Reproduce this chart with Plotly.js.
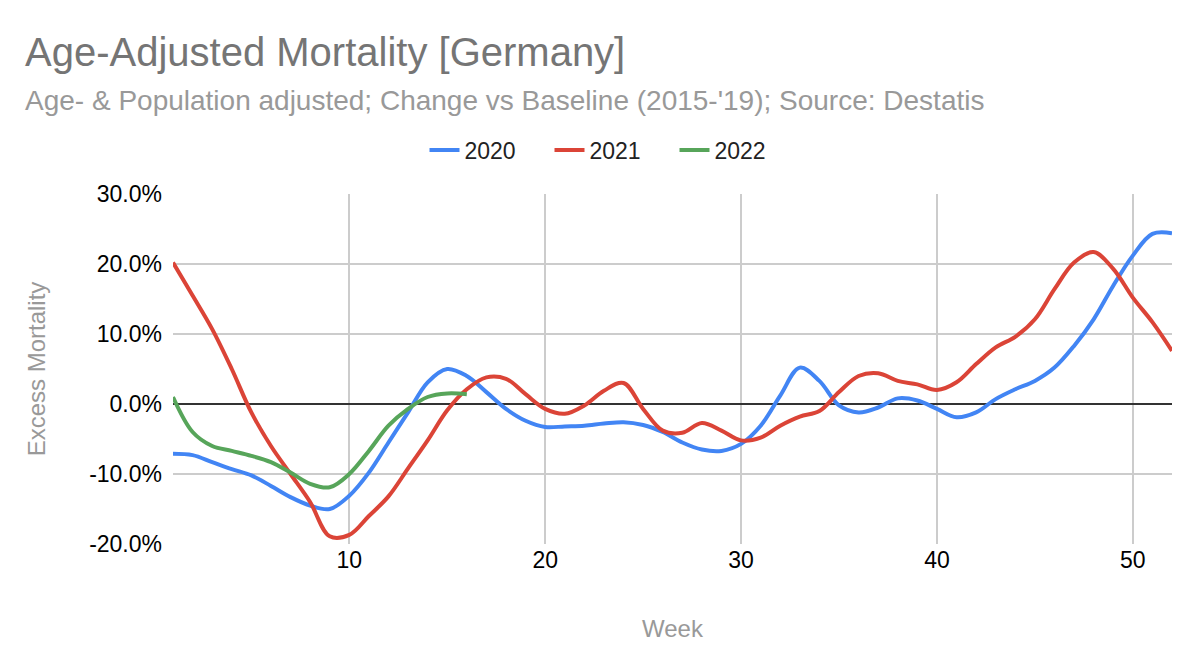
<!DOCTYPE html>
<html>
<head>
<meta charset="utf-8">
<script src="https://cdn.plot.ly/plotly-3.0.1.min.js"></script>
<style>html,body{margin:0;padding:0;background:#fff;}#chart{width:1200px;height:670px;}</style>
</head>
<body>
<div id="chart"></div>
<script>
const weeks2020 = [1,2,3,4,5,6,7,8,9,10,11,12,13,14,15,16,17,18,19,20,21,22,23,24,25,26,27,28,29,30,31,32,33,34,35,36,37,38,39,40,41,42,43,44,45,46,47,48,49,50,51,52];
const values2020 = [-7.1,-7.3,-8.3,-9.3,-10.2,-11.7,-13.3,-14.5,-15.0,-13.1,-9.8,-5.5,-1.2,3.1,5.0,4.0,1.7,-0.7,-2.4,-3.3,-3.2,-3.1,-2.8,-2.6,-3.0,-4.0,-5.5,-6.5,-6.7,-5.7,-3.1,1.2,5.2,3.3,-0.2,-1.2,-0.5,0.8,0.5,-0.7,-1.9,-1.2,0.7,2.1,3.3,5.2,8.3,12.1,16.9,21.2,24.3,24.4];
const weeks2021 = weeks2020;
const values2021 = [20.2,15.5,10.7,5.0,-1.2,-6.0,-10.0,-14.0,-18.9,-18.7,-16.0,-13.2,-9.2,-5.2,-0.9,2.1,3.8,3.6,1.4,-0.7,-1.4,-0.2,1.9,3.0,-0.7,-3.8,-4.1,-2.7,-3.8,-5.2,-4.8,-3.1,-1.8,-1.0,1.7,4.0,4.4,3.3,2.8,2.0,3.1,5.7,8.1,9.6,12.1,16.4,20.2,21.7,19.3,15.2,11.7,7.6];
const weeks2022 = [1,2,3,4,5,6,7,8,9,10,11,12,13,14,15,16];
const values2022 = [1.0,-4.0,-6.0,-6.7,-7.4,-8.3,-9.8,-11.4,-11.9,-10.0,-6.7,-3.1,-0.7,1.0,1.5,1.4];
const seriesNames = ['2020','2021','2022'];
const seriesColors = ['#4285F4','#DB4437','#57A55A'];
const yTicks = [-20,-10,0,10,20,30];
const xTicks = [10,20,30,40,50];

const xs = [weeks2020, weeks2021, weeks2022];
const ys = [values2020, values2021, values2022];
const traces = seriesNames.map((n,i)=>({
  type:'scatter', mode:'lines', name:n, x:xs[i], y:ys[i],
  line:{color:seriesColors[i], width:4, shape:'spline', smoothing:1},
  hoverinfo:'skip'
}));

const font = '"Liberation Sans", Arial, sans-serif';
const layout = {
  width:1200, height:670,
  paper_bgcolor:'#fff', plot_bgcolor:'#fff',
  margin:{l:173, r:28, t:194, b:126},
  font:{family:font, color:'#000'},
  title:{text:'Age-Adjusted Mortality [Germany]', font:{family:font, size:40, color:'#757575'},
         x:25/1200, xanchor:'left', xref:'container', y:1-52/670, yanchor:'middle', yref:'container'},
  annotations:[{text:"Age- & Population adjusted; Change vs Baseline (2015-'19); Source: Destatis",
    xref:'paper', yref:'paper', x:-150/999, y:(544-100)/350, xanchor:'left', yanchor:'middle',
    showarrow:false, font:{family:font, size:28, color:'#999999'}}],
  showlegend:true,
  legend:{orientation:'h', xref:'container', yref:'container', x:0.51, xanchor:'center', y:1-150/670, yanchor:'middle',
    font:{family:font, size:23, color:'#222'}, itemwidth:30, tracegroupgap:0, entrywidth:80, entrywidthmode:'pixels'},
  xaxis:{range:[1,52], tickvals:xTicks, ticktext:xTicks.map(String), showgrid:true, gridcolor:'#cccccc', gridwidth:2,
    zeroline:false, showline:false, ticks:'', tickfont:{family:font, size:23, color:'#000'},
    title:{text:'Week', font:{family:font, size:24, color:'#999999'}, standoff:48}, automargin:false},
  yaxis:{range:[-20,30], tickvals:yTicks, ticktext:yTicks.map(v=>v.toFixed(1)+'%'), showgrid:true, gridcolor:'#cccccc', gridwidth:2,
    zeroline:true, zerolinecolor:'#333333', zerolinewidth:2, showline:false, ticks:'', ticklabelstandoff:10,
    tickfont:{family:font, size:23, color:'#000'},
    title:{text:'Excess Mortality', font:{family:font, size:24, color:'#999999'}, standoff:36}, automargin:false}
};
Plotly.newPlot('chart', traces, layout, {staticPlot:true, displayModeBar:false});
</script>
</body>
</html>
